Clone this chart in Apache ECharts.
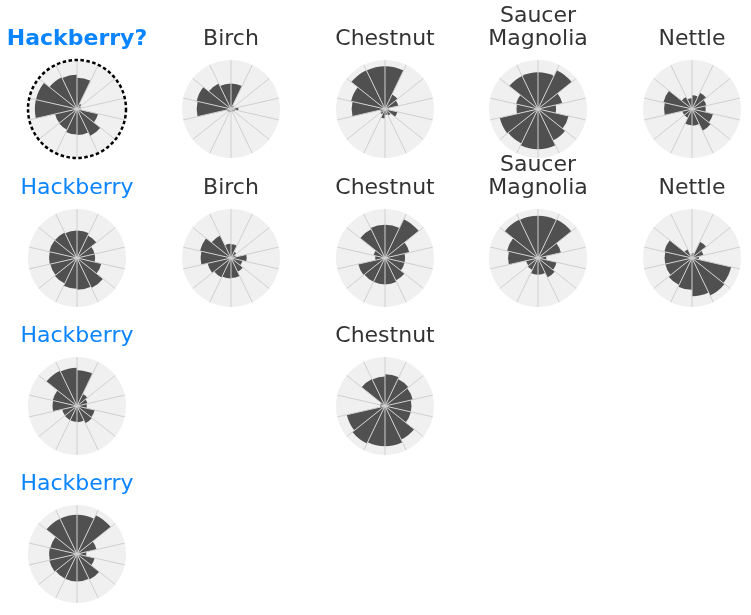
<!DOCTYPE html>
<html><head><meta charset="utf-8">
<script src="https://cdn.jsdelivr.net/npm/echarts@6/dist/echarts.min.js"></script>
<style>html,body{margin:0;padding:0;background:#fff}#c{width:751px;height:615px}</style>
</head><body><div id="c"></div>
<script>
// 14 angular sectors, clockwise from the top
const sectors = ['S1','S2','S3','S4','S5','S6','S7','S8','S9','S10','S11','S12','S13','S14'];

// values (radial length, 0-100)
const hackberryQuery = [64,12,8,7,44,61,53,52,47,46,86,86,72,70];
const birchA        = [52,8,5,15,8,6,5,6,7,8,70,72,58,52];
const chestnutA     = [87,33,28,8,26,15,12,19,12,10,68,71,88,87];
const saucerA       = [75,88,51,37,64,71,82,82,78,80,44,46,75,75];
const nettleA       = [28,37,30,28,44,49,34,33,20,20,57,60,27,22];
const hackberryA    = [56,51,37,37,51,68,65,63,58,56,57,58,58,56];
const birchB        = [28,14,10,32,24,31,41,42,44,49,62,65,51,29];
const chestnutB     = [68,88,51,41,41,51,54,54,54,56,20,24,65,68];
const saucerB       = [86,87,48,17,39,44,34,34,27,25,61,65,87,86];
const nettleB       = [10,37,24,14,82,85,78,65,61,56,56,58,20,7];
const hackberryB    = [73,27,22,20,37,39,33,32,32,31,50,51,80,78];
const chestnutC     = [65,61,58,54,54,76,82,82,85,80,10,10,61,60];
const hackberryC    = [80,88,41,19,37,58,56,56,56,58,57,56,80,80];

const titles = ['Hackberry?','Birch','Chestnut','Saucer\nMagnolia','Nettle',
                'Hackberry','Birch','Chestnut','Saucer\nMagnolia','Nettle',
                'Hackberry','Chestnut','Hackberry'];
const valueSets = [hackberryQuery,birchA,chestnutA,saucerA,nettleA,
                   hackberryA,birchB,chestnutB,saucerB,nettleB,
                   hackberryB,chestnutC,hackberryC];

// layout (grid cell per panel)
const colX = [77, 231, 385, 538, 692];
const rowY = [109, 258, 406, 554];
const cells = [[0,0],[1,0],[2,0],[3,0],[4,0],
               [0,1],[1,1],[2,1],[3,1],[4,1],
               [0,2],[2,2],[0,3]];
const R = 49;

const polar = [], angleAxis = [], radiusAxis = [], series = [], graphic = [];
valueSets.forEach((vals, i) => {
  const [c, r] = cells[i];
  const cx = colX[c], cy = rowY[r];
  const isQuery = i === 0;
  const isHack = titles[i].startsWith('Hackberry');
  polar.push({center: [cx, cy], radius: R});
  angleAxis.push({
    polarIndex: i, type: 'category', data: sectors, boundaryGap: true,
    startAngle: 90, clockwise: true, z: 10,
    axisLine: {show: isQuery, lineStyle: {color: '#000', width: 2.5, type: [3.5, 2.5]}},
    axisTick: {show: false}, axisLabel: {show: false},
    splitLine: {show: true, lineStyle: {color: '#d0d0d0', width: 1}}
  });
  radiusAxis.push({
    polarIndex: i, type: 'value', min: 0, max: 100, interval: 100, z: 0,
    axisLine: {show: false}, axisTick: {show: false}, axisLabel: {show: false},
    splitLine: {show: false},
    splitArea: {show: true, areaStyle: {color: ['#f0f0f0']}}
  });
  series.push({
    type: 'bar', coordinateSystem: 'polar', polarIndex: i, data: vals,
    barCategoryGap: '0%', silent: true, z: 2,
    itemStyle: {color: '#505050'}
  });
  const twoLine = titles[i].indexOf('\n') >= 0;
  graphic.push({
    type: 'text', x: cx, y: cy - 70 - (twoLine ? 11.5 : 0),
    style: {
      text: titles[i], textAlign: 'center', textVerticalAlign: 'middle',
      fontFamily: 'DejaVu Sans', fontSize: 22, lineHeight: 23,
      fontWeight: isQuery ? 'bold' : 'normal',
      fill: isHack ? '#0a84ff' : '#333333'
    }
  });
});

const chart = echarts.init(document.getElementById('c'), null, {renderer: 'canvas'});
chart.setOption({animation: false, polar, angleAxis, radiusAxis, series, graphic});
</script></body></html>
